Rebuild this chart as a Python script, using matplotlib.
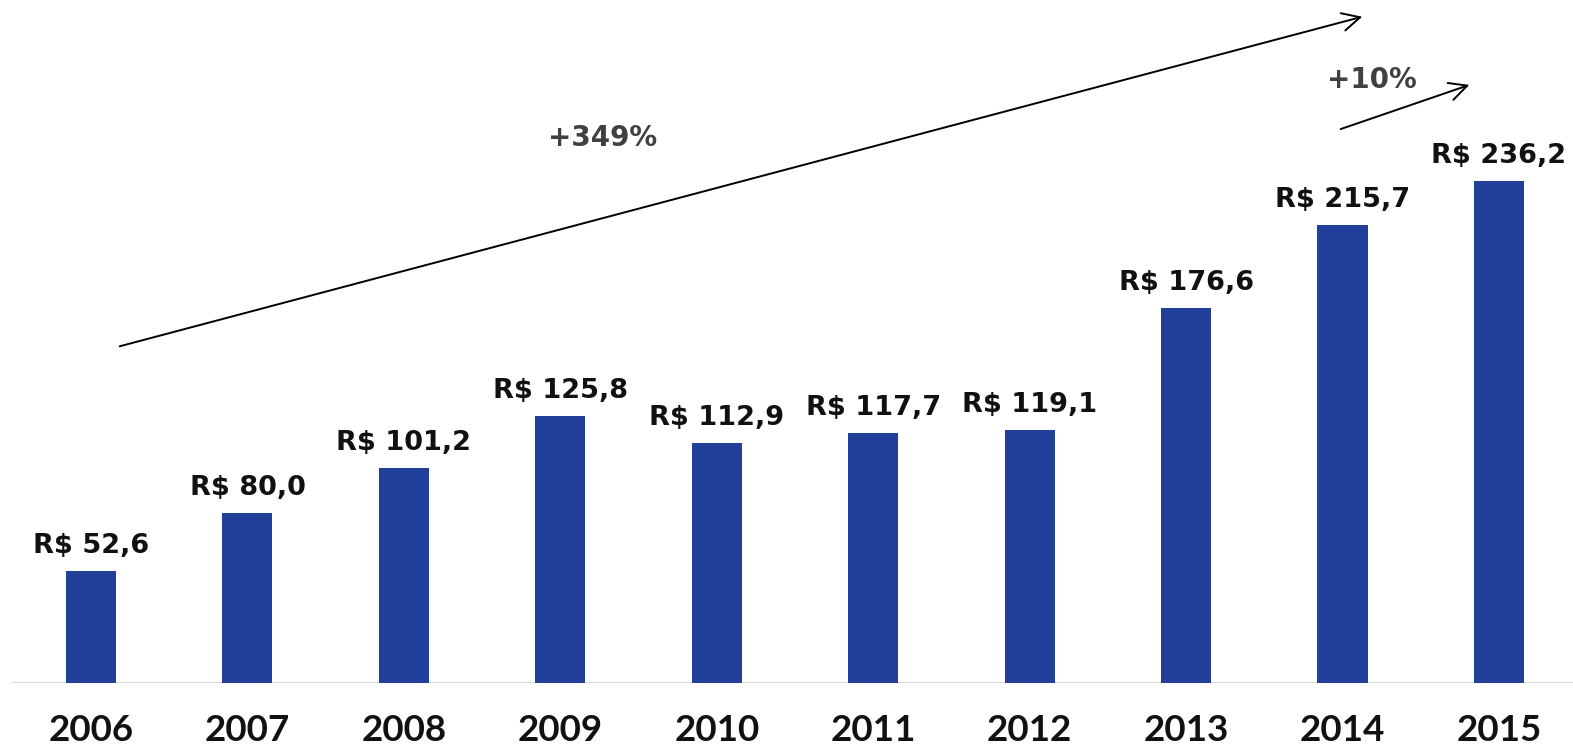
import numpy as np
import matplotlib.pyplot as plt

# Data
years = ['2006', '2007', '2008', '2009', '2010', '2011', '2012', '2013', '2014', '2015']
values = [52.6, 80.0, 101.2, 125.8, 112.9, 117.7, 119.1, 176.6, 215.7, 236.2]
labels = ['R$ ' + f'{v:.1f}'.replace('.', ',') for v in values]

BAR_COLOR = '#22409A'
W, H = 1573, 744

plt.rcParams['font.family'] = ['Lato', 'DejaVu Sans']

fig = plt.figure(figsize=(W / 100, H / 100), dpi=100)
ax = fig.add_axes([0, 61 / H, 1, 1 - 61 / H])

x = np.arange(len(years))
ax.bar(x, values, width=0.32, color=BAR_COLOR, zorder=2)

ax.set_xlim(-91 / 156.44, (W - 91) / 156.44)
ax.set_ylim(0, 683 / 2.125)

for xi, v, lab in zip(x, values, labels):
    ax.text(xi, v + 8.5, lab, ha='center', va='baseline', fontsize=19.5,
            fontweight='bold', color='#111111', family='DejaVu Sans')

ax.set_xticks(x)
ax.set_xticklabels(years, fontsize=26.5, fontweight='bold', color='#111111')
ax.tick_params(axis='x', length=0, pad=22)
ax.set_yticks([])
for s in ax.spines.values():
    s.set_visible(False)
ax.axhline(0, xmin=12 / W, xmax=1, color='#d9d9d9', lw=1.5, zorder=1)

# growth arrows
arrow = dict(arrowstyle='->', color='black', lw=1.4, mutation_scale=32)
ax.annotate('', xy=(1365, H - 16), xytext=(117, H - 347),
            xycoords='figure pixels', textcoords='figure pixels', arrowprops=arrow)
ax.annotate('', xy=(1472, H - 84), xytext=(1338, H - 130),
            xycoords='figure pixels', textcoords='figure pixels', arrowprops=arrow)
fig.text(603 / W, 1 - 138 / H, '+349%', ha='center', va='center', fontsize=20,
         fontweight='bold', color='#404040', family='DejaVu Sans')
fig.text(1372 / W, 1 - 80 / H, '+10%', ha='center', va='center', fontsize=20,
         fontweight='bold', color='#404040', family='DejaVu Sans')

fig.savefig('out.png', dpi=100)
